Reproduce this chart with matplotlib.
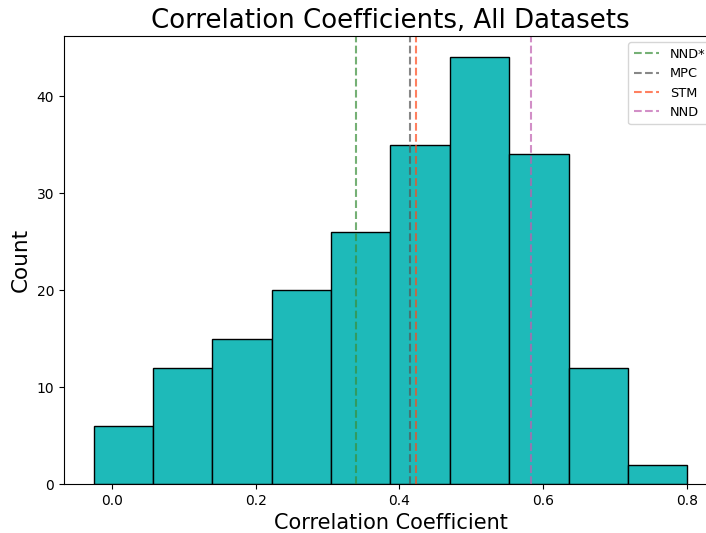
import matplotlib
matplotlib.use("Agg")
import matplotlib.pyplot as plt
import numpy as np

# histogram of correlation coefficients (10 bins)
bin_edges = [-0.025, 0.0575, 0.14, 0.2225, 0.305, 0.3875, 0.47, 0.5525, 0.635, 0.7175, 0.8]
counts = [6, 12, 15, 20, 26, 35, 44, 34, 12, 2]

# mean coefficient per method
methods = ["NND*", "MPC", "STM", "NND"]
method_means = [0.340, 0.415, 0.423, 0.583]
method_colors = ["#3a8f3a", "#555555", "#ff4a1c", "#c060b0"]

fig = plt.figure(figsize=(7.06, 5.33), dpi=100)
# axes run slightly past the right edge of the canvas
ax = fig.add_axes([64 / 706, 49 / 533, 653 / 706, 448 / 533])

centers = (np.array(bin_edges[:-1]) + np.array(bin_edges[1:])) / 2
ax.hist(centers, bins=bin_edges, weights=counts, color="#1ebab9",
        edgecolor="black", linewidth=1.0)

for name, val, col in zip(methods, method_means, method_colors):
    ax.axvline(val, color=col, linestyle="--", alpha=0.7, linewidth=1.5, label=name)

ax.set_xticks([0.0, 0.2, 0.4, 0.6, 0.8])
ax.set_title("Correlation Coefficients, All Datasets", fontsize=18.7)
ax.set_xlabel("Correlation Coefficient", fontsize=15)
ax.set_ylabel("Count", fontsize=15.5)
ax.tick_params(labelsize=10)
ax.legend(loc="upper right", fontsize=9.3)

fig.savefig("out.png", dpi=100)
